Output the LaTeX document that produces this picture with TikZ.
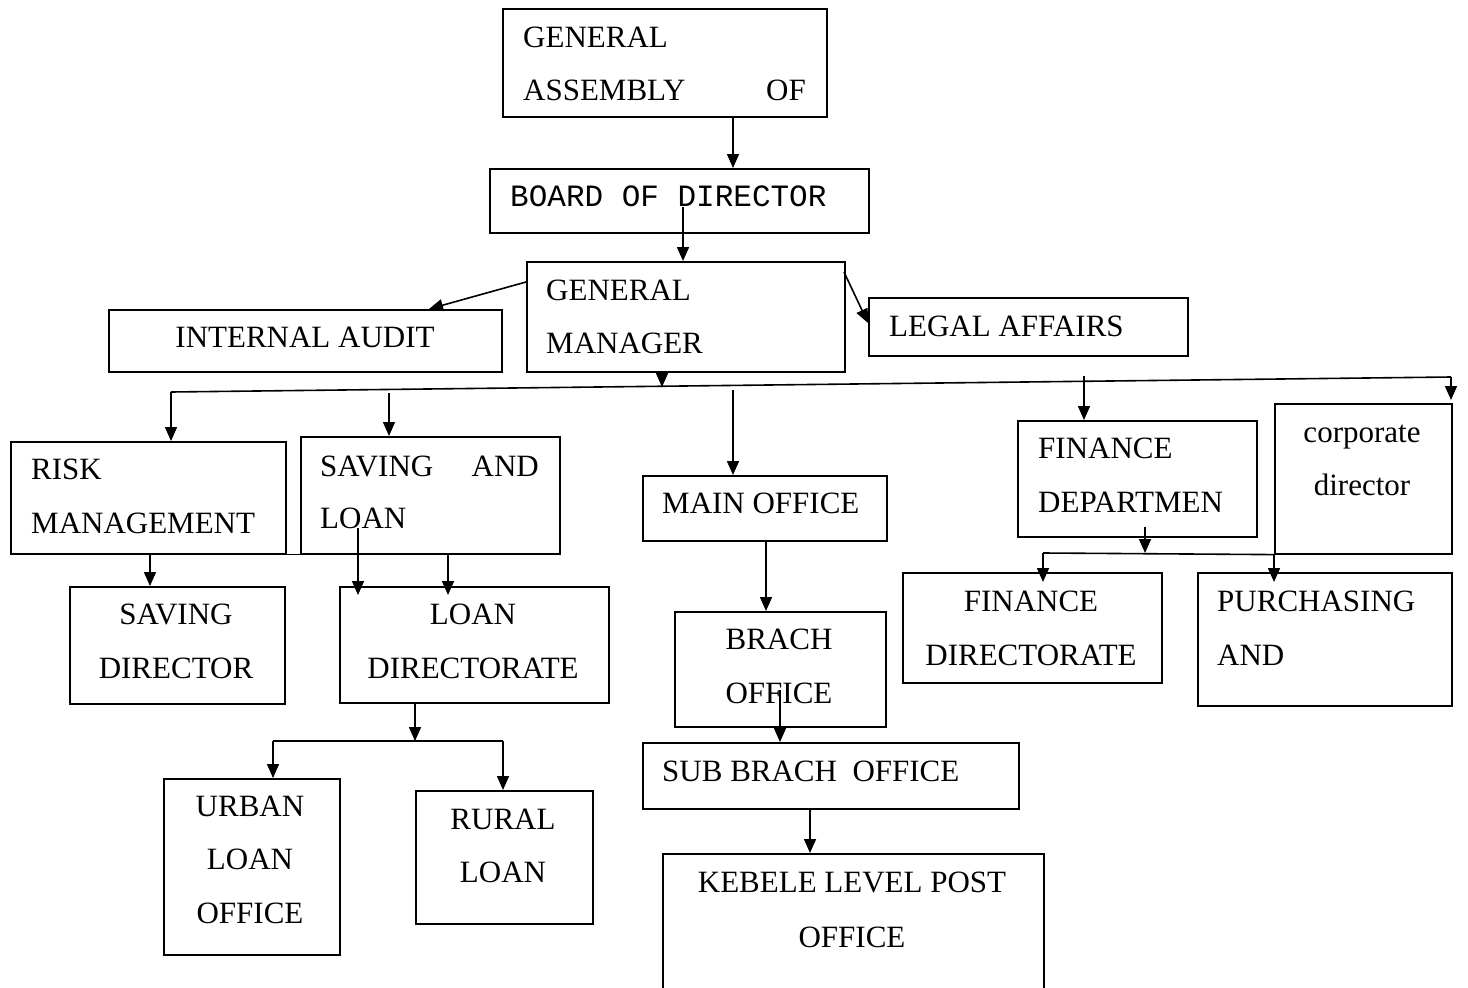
\documentclass[tikz,border=0pt]{standalone}
\usepackage{fontspec}
\setmainfont{Liberation Serif}
\setmonofont{Liberation Mono}
\usetikzlibrary{arrows.meta,calc}
\tikzset{
 bx/.style={draw, line width=1.6pt, inner sep=0pt, anchor=north west},
 tx/.style={inner sep=0pt, font=\fontsize{31}{37}\selectfont},
 arr/.style={line width=1.6pt, -{Triangle[length=14pt,width=12pt]}},
 ln/.style={line width=1.6pt},
}
\begin{document}
\begin{tikzpicture}[x=1pt,y=-1pt]
\useasboundingbox (0,0) rectangle (1468,988);
% boxes
\node[bx, minimum width=324pt, minimum height=108pt] (ga) at (502,8) {};
\node[bx, minimum width=379pt, minimum height=64pt] (bod) at (489,168) {};
\node[bx, minimum width=318pt, minimum height=110pt] (gm) at (526,261) {};
\node[bx, minimum width=393pt, minimum height=62pt] (ia) at (108,309) {};
\node[bx, minimum width=319pt, minimum height=58pt] (legal) at (868,297) {};
\node[bx, minimum width=275pt, minimum height=112pt] (risk) at (10,441) {};
\node[bx, minimum width=259pt, minimum height=117pt] (sl) at (300,436) {};
\node[bx, minimum width=244pt, minimum height=65pt] (mo) at (642,475) {};
\node[bx, minimum width=239pt, minimum height=116pt] (fd) at (1017,420) {};
\node[bx, minimum width=177pt, minimum height=150pt] (corp) at (1274,403) {};
\node[bx, minimum width=215pt, minimum height=117pt] (sd) at (69,586) {};
\node[bx, minimum width=269pt, minimum height=116pt] (ld) at (339,586) {};
\node[bx, minimum width=211pt, minimum height=115pt] (br) at (674,611) {};
\node[bx, minimum width=259pt, minimum height=110pt] (fdir) at (902,572) {};
\node[bx, minimum width=254pt, minimum height=133pt] (pur) at (1197,572) {};
\node[bx, minimum width=376pt, minimum height=66pt] (sub) at (642,742) {};
\node[bx, minimum width=176pt, minimum height=176pt] (urb) at (163,778) {};
\node[bx, minimum width=177pt, minimum height=133pt] (rur) at (415,790) {};
\node[bx, minimum width=381pt, minimum height=170pt] (keb) at (662,853) {};
% texts
\node[tx, anchor=base west] (t1) at (523,47) {GENERAL};
\node[tx, anchor=base west] (t2) at (523,100) {ASSEMBLY};
\node[tx, anchor=base east] (t3) at (806,100) {OF};
\node[tx, anchor=base west, font=\ttfamily\fontsize{31}{37}\selectfont] (t4) at (510,206) {BOARD OF DIRECTOR};
\node[tx, anchor=base west] (t5) at (546,300) {GENERAL};
\node[tx, anchor=base west] (t6) at (546,353) {MANAGER};
\node[tx, anchor=base] (t7) at (305,347) {INTERNAL AUDIT};
\node[tx, anchor=base west] (t8) at (889,336) {LEGAL AFFAIRS};
\node[tx, anchor=base west] (t9) at (31,479) {RISK};
\node[tx, anchor=base west] (t10) at (31,533) {MANAGEMENT};
\node[tx, anchor=base west] (t11) at (320,476) {SAVING};
\node[tx, anchor=base east] (t12) at (539,476) {AND};
\node[tx, anchor=base west] (t13) at (320,528) {LOAN};
\node[tx, anchor=base west] (t14) at (662,513) {MAIN OFFICE};
\node[tx, anchor=base west] (t15) at (1038,458) {FINANCE};
\node[tx, anchor=base west] (t16) at (1038,512) {DEPARTMEN};
\node[tx, anchor=base] (t17) at (1362,442) {corporate};
\node[tx, anchor=base] (t18) at (1362,495) {director};
\node[tx, anchor=base] (t19) at (176,624) {SAVING};
\node[tx, anchor=base] (t20) at (176,678) {DIRECTOR};
\node[tx, anchor=base] (t21) at (473,624) {LOAN};
\node[tx, anchor=base] (t22) at (473,678) {DIRECTORATE};
\node[tx, anchor=base] (t23) at (779,649) {BRACH};
\node[tx, anchor=base] (t24) at (779,703) {OFFICE};
\node[tx, anchor=base] (t25) at (1031,611) {FINANCE};
\node[tx, anchor=base] (t26) at (1031,665) {DIRECTORATE};
\node[tx, anchor=base west] (t27) at (1217,611) {PURCHASING};
\node[tx, anchor=base west] (t28) at (1217,665) {AND};
\node[tx, anchor=base west] (t29) at (662,781) {SUB BRACH\ \ OFFICE};
\node[tx, anchor=base] (t30) at (250,816) {URBAN};
\node[tx, anchor=base] (t31) at (250,869) {LOAN};
\node[tx, anchor=base] (t32) at (250,923) {OFFICE};
\node[tx, anchor=base] (t33) at (503,829) {RURAL};
\node[tx, anchor=base] (t34) at (503,882) {LOAN};
\node[tx, anchor=base] (t35) at (852,892) {KEBELE LEVEL POST};
\node[tx, anchor=base] (t36) at (852,947) {OFFICE};
% free-end coordinates
\coordinate (bodIn) at (683,207);
\coordinate (gmL) at (526,282);
\coordinate (gmR) at (844,272);
\coordinate (busL) at (171,392);
\coordinate (busR) at (1451,377);
\coordinate (busM) at (662,387);
\coordinate (slTop) at (389,393);
\coordinate (moTop) at (733,390);
\coordinate (fdTop) at (1084,376);
\coordinate (corpTip) at (1451,400);
\coordinate (slIn) at (358,528);
\coordinate (brIn) at (780,690);
\coordinate (fdIn) at (1145,527);
\coordinate (fbusL) at (1043,553);
\coordinate (lbus) at (415,741);
\coordinate (lbusL) at (273,741);
\coordinate (lbusR) at (503,741);
% connectors
\draw[arr] (ga.south -| 733,0) -- (bod.north -| 733,0);
\draw[arr] (bodIn) -- (gm.north -| bodIn);
\draw[arr] (gmL) -- (ia.north -| 429,0);
\draw[arr] (gmR) -- (legal.west |- 0,323);
\draw[arr] (gm.south -| busM) -- (busM);
\draw[ln] (busL) -- (busR);
\draw[arr] (busL) -- (risk.north -| busL);
\draw[arr] (busR) -- (corpTip);
\draw[arr] (slTop) -- (sl.north -| slTop);
\draw[arr] (moTop) -- (mo.north -| moTop);
\draw[arr] (fdTop) -- (fd.north -| fdTop);
\draw[ln] (risk.south east) -- (sl.south west);
\draw[arr] (risk.south -| 150,0) -- (sd.north -| 150,0);
\draw[arr] (slIn) -- ($(ld.north -| slIn)+(0,9)$);
\draw[arr] (sl.south -| 448,0) -- ($(ld.north -| 448,0)+(0,9)$);
\draw[arr] (mo.south -| 766,0) -- (br.north -| 766,0);
\draw[arr] (brIn) -- (sub.north -| brIn);
\draw[arr] (sub.south -| 810,0) -- (keb.north -| 810,0);
\draw[arr] (ld.south -| lbus) -- (lbus);
\draw[ln] (lbusL) -- (lbusR);
\draw[arr] (lbusL) -- (urb.north -| lbusL);
\draw[arr] (lbusR) -- (rur.north -| lbusR);
\draw[arr] (fdIn) -- (fdIn |- fbusL);
\draw[arr] (fbusL) -- ($(fdir.north -| fbusL)+(0,10)$);
\draw[ln] (fbusL) -- (corp.south west);
\draw[arr] (corp.south west) -- ($(pur.north -| corp.south west)+(0,10)$);
\end{tikzpicture}
\end{document}
